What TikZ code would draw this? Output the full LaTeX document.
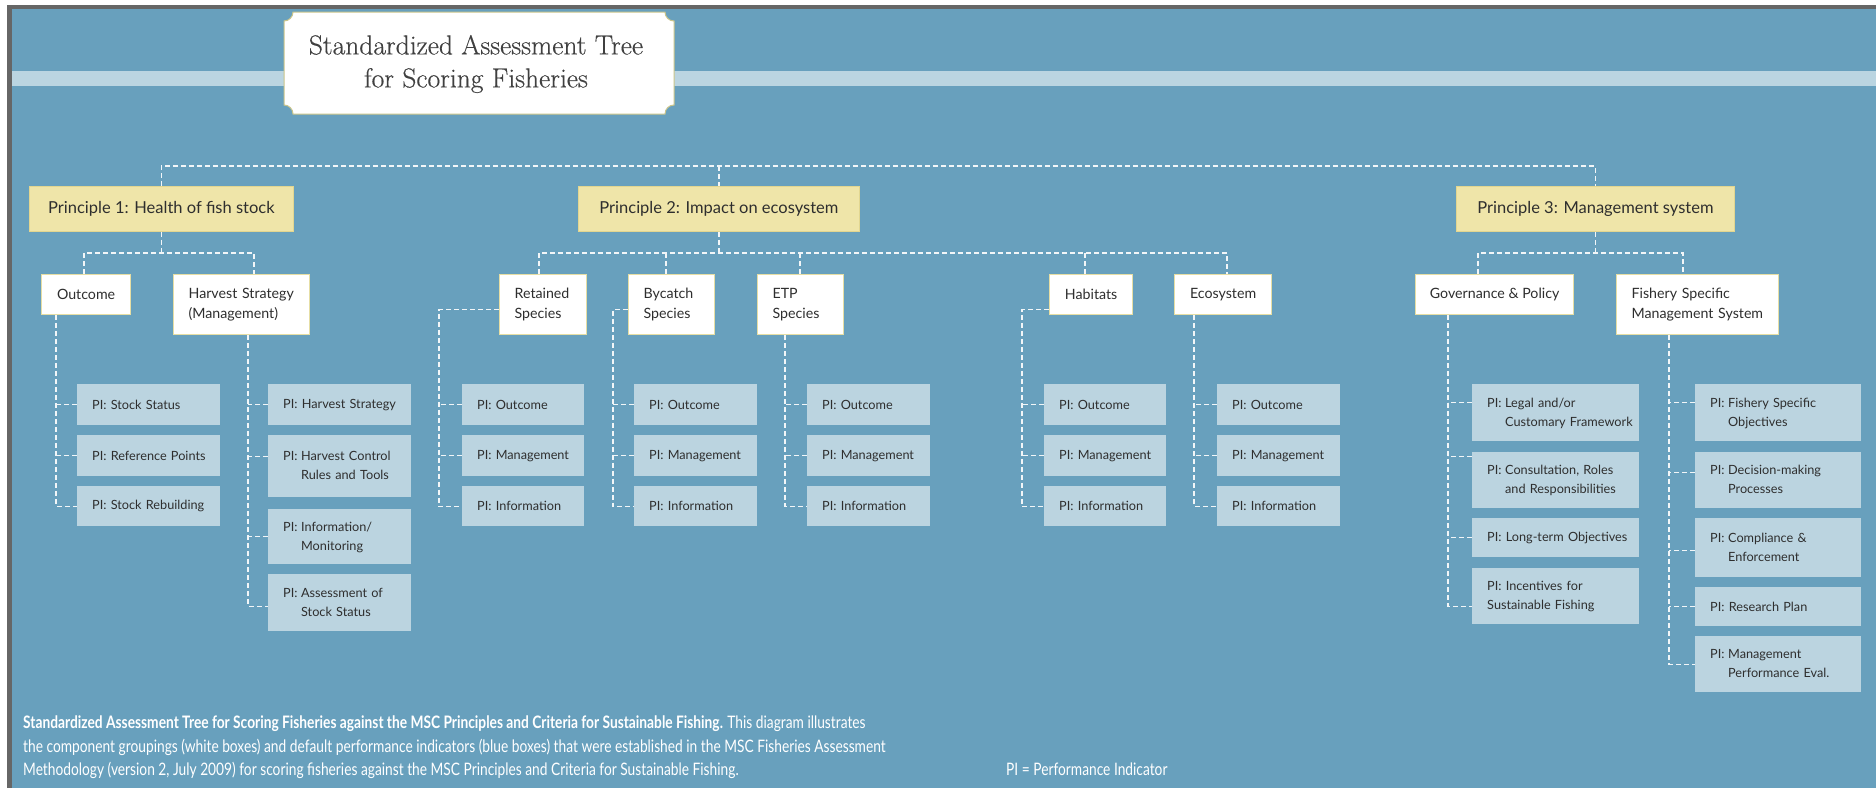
\documentclass[tikz,border=0pt]{standalone}
\usepackage{fontspec}
\newfontfamily\lato{Lato}
\newfontfamily\capfont[FakeStretch=0.8]{Lato}
\newfontfamily\titlefont[FakeBold=0.4]{Latin Modern Roman}
\usetikzlibrary{calc}
\definecolor{bgblue}{HTML}{68A0BD}
\definecolor{stripe}{HTML}{BBD5E1}
\definecolor{pil}{HTML}{BBD4E0}
\definecolor{pyel}{HTML}{EFE5A9}
\definecolor{pyelb}{HTML}{E2D690}
\definecolor{cbord}{HTML}{E6DEA4}
\definecolor{tbord}{HTML}{C9C48A}
\definecolor{txt}{HTML}{2E2E2E}
\definecolor{titlec}{HTML}{404040}
\definecolor{framec}{HTML}{666666}
\definecolor{lineW}{HTML}{F2F6F8}
\newcommand\pii[2]{\begin{tabular}{@{}l@{\hspace{0.28em}}l@{}}PI: & #1\\ & #2\end{tabular}}
\newcommand\pione[1]{\mbox{PI:\ #1}}
\begin{document}
\begin{tikzpicture}[x=1pt,y=-1pt,
  pbox/.style={anchor=north west, fill=pyel, draw=pyelb, line width=0.8pt, inner sep=0pt, text=txt, font=\lato\fontsize{16.5}{19}\selectfont},
  cbox/.style={anchor=north west, fill=white, draw=cbord, line width=1.2pt, inner sep=0pt, text=txt, font=\lato\fontsize{14.2}{20}\selectfont},
  cboxl/.style={cbox, align=left, inner xsep=15pt},
  pibox/.style={anchor=north west, fill=pil, inner xsep=15pt, inner ysep=0pt, align=left, text=txt, font=\lato\fontsize{12.7}{19}\selectfont},
  conn/.style={draw=lineW, line width=1.2pt, dash pattern=on 5pt off 3pt},
  captxt/.style={anchor=base west, inner sep=0pt, text=white, font=\capfont\fontsize{17.2}{23}\selectfont}]
\useasboundingbox (0,0) rectangle (1876,788);
% background and frame
\fill[white] (0,0) rectangle (1876,788);
\fill[framec] (7,5) rectangle (1876,788);
\fill[bgblue] (12,9) rectangle (1876,788);
\fill[stripe] (12,71) rectangle (1876,86);
% title box
\coordinate (tl) at (284,12);
\coordinate (tr) at (674,12);
\coordinate (brc) at (674,114);
\coordinate (bl) at (284,114);
\filldraw[fill=white, draw=tbord, line width=1pt]
  ($(tl)+(9,0)$) -- ($(tr)+(-9,0)$)
  .. controls ($(tr)+(-9,5)$) and ($(tr)+(-5,9)$) .. ($(tr)+(0,9)$)
  -- ($(brc)+(0,-9)$)
  .. controls ($(brc)+(-5,-9)$) and ($(brc)+(-9,-5)$) .. ($(brc)+(-9,0)$)
  -- ($(bl)+(9,0)$)
  .. controls ($(bl)+(9,-5)$) and ($(bl)+(5,-9)$) .. ($(bl)+(0,-9)$)
  -- ($(tl)+(0,9)$)
  .. controls ($(tl)+(5,9)$) and ($(tl)+(9,5)$) .. cycle;
\node[inner sep=0pt, align=center, text=titlec, font=\titlefont\fontsize{27.5}{33}\selectfont] (title) at ($(tl)!0.5!(brc)+(-3,1)$) {Standardized Assessment Tree\\for Scoring Fisheries};
% principles
\node[pbox, minimum width=264, minimum height=45] (p1) at (29,186) {Principle 1: Health of fish stock};
\node[pbox, minimum width=281, minimum height=45] (p2) at (578,186) {Principle 2: Impact on ecosystem};
\node[pbox, minimum width=278, minimum height=45] (p3) at (1456,186) {Principle 3: Management system};
% component groupings
\node[cbox, minimum width=89, minimum height=40] (outc) at (41,274) {Outcome};
\node[cboxl, minimum width=136, minimum height=60, text width=106] (harv) at (173,274) {Harvest Strategy\\(Management)};
\node[cboxl, minimum width=87, minimum height=60, text width=57] (ret) at (499,274) {Retained\\Species};
\node[cboxl, minimum width=86, minimum height=60, text width=56] (byc) at (628,274) {Bycatch\\Species};
\node[cboxl, minimum width=86, minimum height=60, text width=56] (etp) at (757,274) {ETP\\Species};
\node[cbox, minimum width=83, minimum height=40] (hab) at (1049,274) {Habitats};
\node[cbox, minimum width=97, minimum height=40] (eco) at (1174,274) {Ecosystem};
\node[cbox, minimum width=158, minimum height=40] (gov) at (1415,274) {Governance \& Policy};
\node[cboxl, minimum width=162, minimum height=60, text width=132] (fish) at (1616,274) {Fishery Specific\\Management System};
% PI boxes, principle 1
\node[pibox, minimum width=143, minimum height=41, text width=113] (ss) at (77,384) {\pione{Stock Status}};
\node[pibox, minimum width=143, minimum height=41, text width=113] (rp) at (77,435) {\pione{Reference Points}};
\node[pibox, minimum width=143, minimum height=40, text width=113] (sr) at (77,486) {\pione{Stock Rebuilding}};
\node[pibox, minimum width=143, minimum height=41, text width=113] (hs) at (268,384) {\pione{Harvest Strategy}};
\node[pibox, minimum width=143, minimum height=62, text width=113] (hcr) at (268,435) {\pii{Harvest Control}{Rules and Tools}};
\node[pibox, minimum width=143, minimum height=55, text width=113] (im) at (268,509) {\pii{Information/}{Monitoring}};
\node[pibox, minimum width=143, minimum height=57, text width=113] (as) at (268,574) {\pii{Assessment of}{Stock Status}};
% principle 2
\node[pibox, minimum width=122, minimum height=41, text width=92] (ro) at (462,384) {\pione{Outcome}};
\node[pibox, minimum width=122, minimum height=41, text width=92] (rm) at (462,435) {\pione{Management}};
\node[pibox, minimum width=122, minimum height=40, text width=92] (ri) at (462,486) {\pione{Information}};
\node[pibox, minimum width=123, minimum height=41, text width=93] (bo) at (634,384) {\pione{Outcome}};
\node[pibox, minimum width=123, minimum height=41, text width=93] (bm) at (634,435) {\pione{Management}};
\node[pibox, minimum width=123, minimum height=40, text width=93] (bi) at (634,486) {\pione{Information}};
\node[pibox, minimum width=123, minimum height=41, text width=93] (eo) at (807,384) {\pione{Outcome}};
\node[pibox, minimum width=123, minimum height=41, text width=93] (em) at (807,435) {\pione{Management}};
\node[pibox, minimum width=123, minimum height=40, text width=93] (ei) at (807,486) {\pione{Information}};
\node[pibox, minimum width=122, minimum height=41, text width=92] (ho) at (1044,384) {\pione{Outcome}};
\node[pibox, minimum width=122, minimum height=41, text width=92] (hm) at (1044,435) {\pione{Management}};
\node[pibox, minimum width=122, minimum height=40, text width=92] (hi) at (1044,486) {\pione{Information}};
\node[pibox, minimum width=123, minimum height=41, text width=93] (xo) at (1217,384) {\pione{Outcome}};
\node[pibox, minimum width=123, minimum height=41, text width=93] (xm) at (1217,435) {\pione{Management}};
\node[pibox, minimum width=123, minimum height=40, text width=93] (xi) at (1217,486) {\pione{Information}};
% principle 3
\node[pibox, minimum width=167, minimum height=57, text width=137] (gl) at (1472,384) {\pii{Legal and/or}{Customary Framework}};
\node[pibox, minimum width=167, minimum height=56, text width=137] (gc) at (1472,452) {\pii{Consultation, Roles}{and Responsibilities}};
\node[pibox, minimum width=167, minimum height=39, text width=137] (gt) at (1472,518) {\pione{Long-term Objectives}};
\node[pibox, minimum width=167, minimum height=56, text width=137] (gi) at (1472,568) {PI: Incentives for\\Sustainable Fishing};
\node[pibox, minimum width=166, minimum height=57, text width=136] (fo) at (1695,384) {\pii{Fishery Specific}{Objectives}};
\node[pibox, minimum width=166, minimum height=56, text width=136] (fd) at (1695,452) {\pii{Decision-making}{Processes}};
\node[pibox, minimum width=166, minimum height=59, text width=136] (fc) at (1695,518) {\pii{Compliance \&}{Enforcement}};
\node[pibox, minimum width=166, minimum height=39, text width=136] (fr) at (1695,587) {\pione{Research Plan}};
\node[pibox, minimum width=166, minimum height=56, text width=136] (fm) at (1695,636) {\pii{Management}{Performance Eval.}};
% top bus
\coordinate (tb) at (0,166);
\coordinate (sb) at (0,253);
\draw[conn] (p1.north) -- (p1.north |- tb) -- (p3.north |- tb) -- (p3.north);
\draw[conn] (p2.north |- tb) -- (p2.north);
% principle 1 sub-bus
\coordinate (d1) at (84,253);
\coordinate (d2) at (254,253);
\draw[conn] (p1.south) -- (p1.south |- sb);
\draw[conn] (outc.north -| d1) -- (d1) -- (d2) -- (harv.north -| d2);
% principle 2 sub-bus
\coordinate (d3) at (539,253);
\coordinate (d4) at (666,253);
\coordinate (d5) at (800,253);
\coordinate (d6) at (1085,253);
\coordinate (d7) at (1227,253);
\draw[conn] (p2.south) -- (p2.south |- sb);
\draw[conn] (ret.north -| d3) -- (d3) -- (d7) -- (eco.north -| d7);
\draw[conn] (d4) -- (byc.north -| d4);
\draw[conn] (d5) -- (etp.north -| d5);
\draw[conn] (d6) -- (hab.north -| d6);
% principle 3 sub-bus
\coordinate (d8) at (1478,253);
\coordinate (d9) at (1683,253);
\draw[conn] (p3.south) -- (p3.south |- sb);
\draw[conn] (gov.north -| d8) -- (d8) -- (d9) -- (fish.north -| d9);
% columns: outcome
\coordinate (v1) at (56,0);
\draw[conn] (outc.south -| v1) |- (sr.west);
\draw[conn] (ss.west) -- (ss.west -| v1);
\draw[conn] (rp.west) -- (rp.west -| v1);
% harvest
\coordinate (v2) at (248,0);
\coordinate (hcrs) at ([yshift=10pt]hcr.west);
\coordinate (ass) at ([yshift=-3.5pt]as.west);
\draw[conn] (harv.south -| v2) |- (ass);
\draw[conn] (hs.west) -- (hs.west -| v2);
\draw[conn] (hcrs) -- (hcrs -| v2);
\draw[conn] (im.west) -- (im.west -| v2);
% retained
\coordinate (v3) at (439,0);
\coordinate (rets) at ([yshift=-5pt]ret.west);
\draw[conn] (rets) -| (v3 |- ri.west) -- (ri.west);
\draw[conn] (ro.west) -- (ro.west -| v3);
\draw[conn] (rm.west) -- (rm.west -| v3);
% bycatch
\coordinate (v4) at (613,0);
\coordinate (bycs) at ([yshift=-5pt]byc.west);
\draw[conn] (bycs) -| (v4 |- bi.west) -- (bi.west);
\draw[conn] (bo.west) -- (bo.west -| v4);
\draw[conn] (bm.west) -- (bm.west -| v4);
% ETP
\coordinate (v5) at (785,0);
\draw[conn] (etp.south -| v5) |- (ei.west);
\draw[conn] (eo.west) -- (eo.west -| v5);
\draw[conn] (em.west) -- (em.west -| v5);
% habitats
\coordinate (v6) at (1022,0);
\coordinate (habs) at ([yshift=-15pt]hab.west);
\draw[conn] (habs) -| (v6 |- hi.west) -- (hi.west);
\draw[conn] (ho.west) -- (ho.west -| v6);
\draw[conn] (hm.west) -- (hm.west -| v6);
% ecosystem
\coordinate (v7) at (1194,0);
\draw[conn] (eco.south -| v7) |- (xi.west);
\draw[conn] (xo.west) -- (xo.west -| v7);
\draw[conn] (xm.west) -- (xm.west -| v7);
% governance
\coordinate (v8) at (1448,0);
\coordinate (gls) at ([yshift=10pt]gl.west);
\coordinate (gcs) at ([yshift=24pt]gc.west);
\coordinate (gis) at ([yshift=-10pt]gi.west);
\draw[conn] (gov.south -| v8) |- (gis);
\draw[conn] (gls) -- (gls -| v8);
\draw[conn] (gcs) -- (gcs -| v8);
\draw[conn] (gt.west) -- (gt.west -| v8);
% fishery specific
\coordinate (v9) at (1669,0);
\coordinate (fos) at ([yshift=10pt]fo.west);
\coordinate (fds) at ([yshift=8pt]fd.west);
\coordinate (fcs) at ([yshift=-2.5pt]fc.west);
\draw[conn] (fish.south -| v9) |- (fm.west);
\draw[conn] (fos) -- (fos -| v9);
\draw[conn] (fds) -- (fds -| v9);
\draw[conn] (fcs) -- (fcs -| v9);
\draw[conn] (fr.west) -- (fr.west -| v9);
% caption
\node[captxt] (c1) at (23,728) {\textbf{Standardized Assessment Tree for Scoring Fisheries against the MSC Principles and Criteria for Sustainable Fishing.} This diagram illustrates};
\node[captxt] (c2) at (23,752) {the component groupings (white boxes) and default performance indicators (blue boxes) that were established in the MSC Fisheries Assessment};
\node[captxt] (c3) at (23,775) {Methodology (version 2, July 2009) for scoring fisheries against the MSC Principles and Criteria for Sustainable Fishing.};
\node[captxt] (pinote) at (1006,775) {PI = Performance Indicator};
\end{tikzpicture}
\end{document}
